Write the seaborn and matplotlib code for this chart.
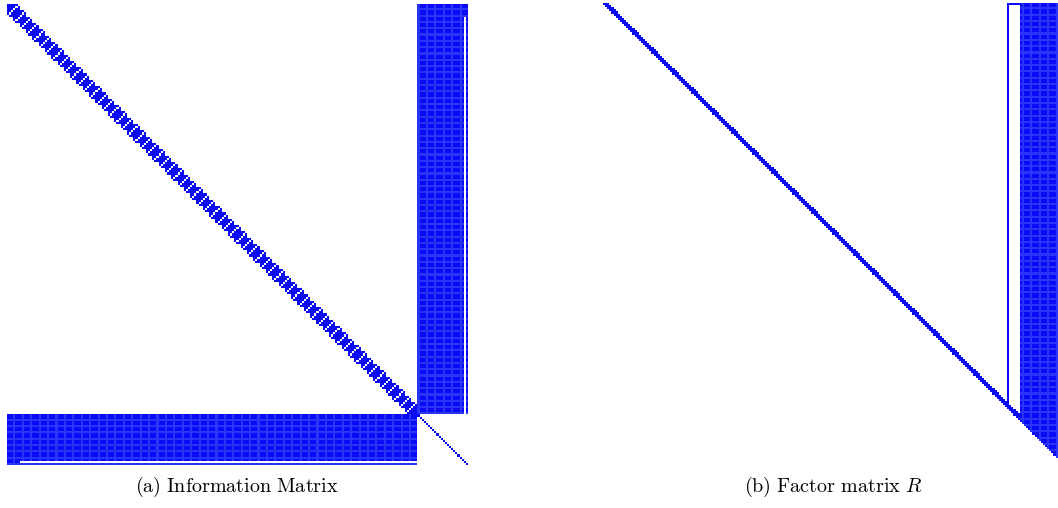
import numpy as np
import matplotlib
matplotlib.use("Agg")
import matplotlib.pyplot as plt
from matplotlib.colors import ListedColormap
import seaborn as sns

# ---- structure of the sparsity patterns ----
n_poses = 65            # robot poses
pose_dim = 3            # x, y, theta
n_landmark_dims = 24    # landmark block size
sparse_landmark_dim = 22  # landmark dim seen only by the first poses
sparse_seen_by = 2        # number of poses that see it
r_dense_col = [192]       # dense single column in R
r_gap_cols = [193, 194, 195, 196, 197]  # nearly empty columns in R
r_band = 3                # band width of R in the pose part
captions = [r"$\mathrm{(a)\ Information\ Matrix}$",
            r"$\mathrm{(b)\ Factor\ matrix}\ R$"]
palette = ["#ffffff", "#0a0af6", "#2834f7"]

P = n_poses * pose_dim
N = P + n_landmark_dims


def texture(mat):
    """faint grid inside dense areas (value 2 instead of 1)"""
    idx = np.arange(N)
    light = (idx[:, None] % 3 == 2) | (idx[None, :] % 4 == 3)
    out = mat.copy()
    out[(mat > 0) & light] = 2
    return out


# ---- information matrix ----
A = np.zeros((N, N), int)
diag_block = np.ones((3, 3), int)
off_block = np.array([[1, 1, 0], [1, 0, 1], [0, 1, 1]])
for i in range(n_poses):
    s = i * pose_dim
    A[s:s + 3, s:s + 3] = diag_block
    if i + 1 < n_poses:
        A[s:s + 3, s + 3:s + 6] = off_block
        A[s + 3:s + 6, s:s + 3] = off_block.T
A[:P, P:] = 1
A[P:, :P] = 1
col = P + sparse_landmark_dim
A[sparse_seen_by * pose_dim:P, col] = 0
A[col, sparse_seen_by * pose_dim:P] = 0
for k in range(P, N):
    A[k, k] = 1
A_t = A.copy()
tA = texture(A)
A_t[:P, P:] = tA[:P, P:]
A_t[P:, :P] = tA[P:, :P]

# ---- factor matrix R ----
R = np.zeros((N, N), int)
for i in range(N):
    R[i, i:min(N, i + r_band)] = 1
c0 = r_dense_col[0]
R[:c0 + 1, c0] = 1
for c in r_gap_cols:
    R[0, c] = 1
dstart = r_gap_cols[-1] + 1
for i in range(N):
    R[i, max(i, dstart):] = 1
R_t = R.copy()
R_t[:, dstart:] = texture(R)[:, dstart:]

# ---- draw ----
W, H = 1058, 508
fig = plt.figure(figsize=(W / 100, H / 100), dpi=100)
plt.rcParams["mathtext.fontset"] = "cm"
cmap = ListedColormap(palette)

ax1 = fig.add_axes([7 / W, 1 - 465 / H, 461 / W, 461 / H])
sns.heatmap(A_t, ax=ax1, cmap=cmap, vmin=-0.5, vmax=2.5, cbar=False,
            xticklabels=False, yticklabels=False, linewidths=0, rasterized=True)
ax2 = fig.add_axes([603 / W, 1 - 464 / H, 461 / W, 461 / H])
sns.heatmap(R_t, ax=ax2, cmap=cmap, vmin=-0.5, vmax=2.5, cbar=False,
            xticklabels=False, yticklabels=False, linewidths=0, rasterized=True)
for ax in (ax1, ax2):
    ax.set_xlabel("")
    ax.set_ylabel("")
    for sp in ax.spines.values():
        sp.set_visible(False)

fig.text(237 / W, 1 - 487 / H, captions[0], ha="center", va="center", fontsize=14.5)
fig.text(833 / W, 1 - 487 / H, captions[1], ha="center", va="center", fontsize=14.5)

fig.savefig("out.png", dpi=100)
